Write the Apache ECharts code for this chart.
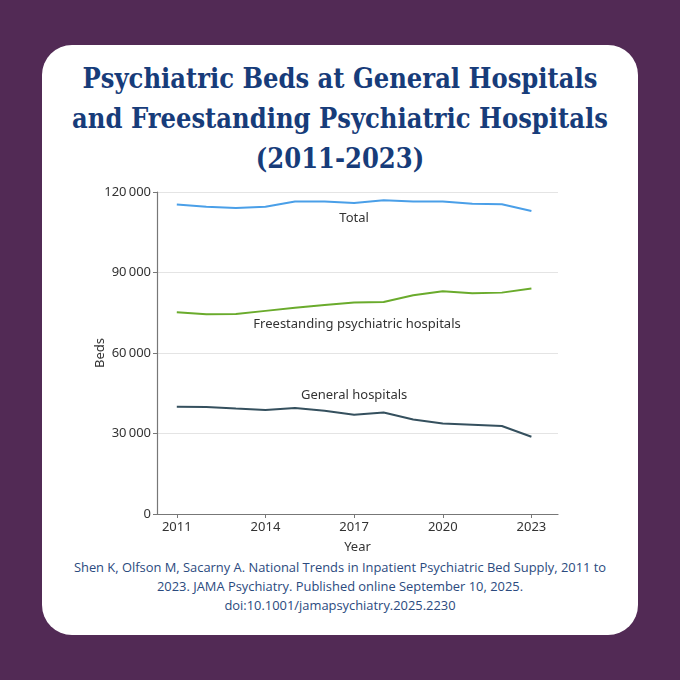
<!DOCTYPE html>
<html>
<head>
<meta charset="utf-8" />
<title>Psychiatric Beds</title>
<script type="text/javascript" src="https://cdn.jsdelivr.net/npm/echarts@6.0.0/dist/echarts.min.js"></script>
<style>
  html, body { margin: 0; padding: 0; }
  body { width: 680px; height: 680px; background: #522a55; position: relative; overflow: hidden; }
  .card { position: absolute; left: 42px; top: 45px; width: 596px; height: 590px; background: #fff; border-radius: 30px; }
  .title { position: absolute; left: 0; top: 59px; width: 680px; text-align: center;
           font-family: "DejaVu Serif", serif; font-stretch: condensed; font-weight: bold;
           font-size: 27px; line-height: 40px; color: #173c7a; }
  .cite { position: absolute; left: 0; top: 558px; width: 680px; text-align: center;
          font-family: "Open Sans", "Noto Sans", sans-serif; font-size: 12.9px; line-height: 19px; color: #2b4a7e; }
  #chart { position: absolute; left: 0; top: 0; width: 680px; height: 680px; }
</style>
</head>
<body>
<div class="card"></div>
<div class="title">Psychiatric Beds at General Hospitals<br />and Freestanding Psychiatric Hospitals<br />(2011-2023)</div>
<div class="cite">Shen K, Olfson M, Sacarny A. National Trends in Inpatient Psychiatric Bed Supply, 2011 to<br />2023. JAMA Psychiatry. Published online September 10, 2025.<br />doi:10.1001/jamapsychiatry.2025.2230</div>
<div id="chart"></div>

<script type="text/javascript">
    // values
    var years = [2011, 2012, 2013, 2014, 2015, 2016, 2017, 2018, 2019, 2020, 2021, 2022, 2023];
    var total = [115300, 114500, 114000, 114500, 116500, 116500, 115900, 116900, 116500, 116500, 115600, 115400, 112900];
    var freestanding = [75200, 74400, 74500, 75700, 76900, 77900, 78800, 79000, 81500, 83000, 82300, 82500, 84000];
    var general = [40000, 39900, 39300, 38800, 39500, 38500, 37000, 37800, 35200, 33700, 33300, 32800, 28800];
    var yearTicks = [2011, 2014, 2017, 2020, 2023];
    var seriesNames = ['Total', 'Freestanding psychiatric hospitals', 'General hospitals'];
    // where the inline series labels sit, in data units [year, beds]
    var labelSpots = [[2017.0, 110300], [2017.1, 70800], [2017.0, 44400]];

    function pairs(vals) {
        return years.map(function (y, i) { return [y, vals[i]]; });
    }

    function inlineLabel(i) {
        return {
            symbol: 'circle', symbolSize: 0, silent: true,
            label: { show: true, position: 'inside', formatter: seriesNames[i],
                     color: '#333', fontSize: 13, fontFamily: 'Noto Sans' },
            data: [{ coord: labelSpots[i] }]
        };
    }

    var myChart = echarts.init(document.getElementById('chart'));
    var labelFont = { color: '#333', fontSize: 13, fontFamily: 'Noto Sans' };

    myChart.setOption({
        animation: false,
        grid: { left: 157, right: 122, top: 192, bottom: 166 },
        xAxis: {
            type: 'value',
            min: 2010.33, max: 2023.9,
            name: 'Year', nameLocation: 'middle', nameGap: 27,
            nameTextStyle: labelFont,
            splitLine: { show: false },
            axisLine: { show: true, lineStyle: { color: '#777', width: 1.2 } },
            axisTick: { show: true, customValues: yearTicks, length: 4, lineStyle: { color: '#777' } },
            axisLabel: Object.assign({
                customValues: yearTicks, margin: 7,
                formatter: function (v) { return String(v); }
            }, labelFont)
        },
        yAxis: {
            type: 'value',
            min: 0, max: 120000, interval: 30000,
            name: 'Beds', nameLocation: 'middle', nameGap: 50, nameMoveOverlap: false,
            nameTextStyle: labelFont,
            axisLine: { show: true, lineStyle: { color: '#777', width: 1.2 } },
            axisTick: { show: true, length: 4, lineStyle: { color: '#777' } },
            splitLine: { lineStyle: { color: '#e4e4e4' } },
            axisLabel: Object.assign({
                margin: 6,
                formatter: function (v) {
                    return String(v).replace(/\B(?=(\d{3})+(?!\d))/g, '\u2009');
                }
            }, labelFont)
        },
        series: [
            {
                name: seriesNames[0], type: 'line', data: pairs(total), showSymbol: false,
                lineStyle: { color: '#4a9fe8', width: 2 }, markPoint: inlineLabel(0)
            },
            {
                name: seriesNames[1], type: 'line', data: pairs(freestanding), showSymbol: false,
                lineStyle: { color: '#6aab2c', width: 2 }, markPoint: inlineLabel(1)
            },
            {
                name: seriesNames[2], type: 'line', data: pairs(general), showSymbol: false,
                lineStyle: { color: '#35505e', width: 2 }, markPoint: inlineLabel(2)
            }
        ]
    });
</script>
</body>
</html>
